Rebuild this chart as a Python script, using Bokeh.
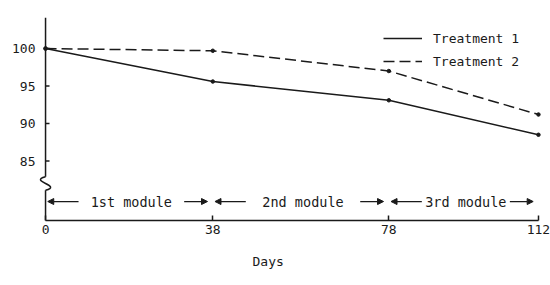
from bokeh.plotting import figure
from bokeh.models import (Range1d, FixedTicker, Legend, LegendItem, Arrow,
                          NormalHead, Title)
from bokeh.core.properties import value
from bokeh.embed import file_html
from bokeh.resources import INLINE

# ---- data ----
days = [0, 38, 78, 112]
treatment1 = [100, 95.6, 93.1, 88.5]
treatment2 = [100, 99.7, 97.0, 91.2]
series_names = ["Treatment 1", "Treatment 2"]
x_ticks = [0, 38, 78, 112]
y_ticks = [85, 90, 95, 100]
module_labels = ["1st module", "2nd module", "3rd module"]
module_start = [0, 38, 78]
module_end = [38, 78, 112]
x_label = "Days"

# ---- styling ----
FONT = "DejaVu Sans Mono"
INK = "#1a1a1a"
Y_LO, Y_HI = 77.07, 105.07
AXIS_TOP = 104.1          # top of the hand-drawn vertical axis
BREAK_HI, BREAK_LO = 82.9, 81.1  # axis break (squiggle)
ARROW_Y = 79.6            # row of module arrows

p = figure(width=550, height=285, output_backend="svg", toolbar_location=None,
           x_range=Range1d(-1.6, 113.6), y_range=Range1d(Y_LO, Y_HI),
           min_border_left=38, min_border_right=5, min_border_top=10,
           min_border_bottom=65)
p.outline_line_color = None
p.xgrid.visible = False
p.ygrid.visible = False
p.background_fill_color = "white"
p.border_fill_color = "white"

# x axis
xa = p.xaxis[0]
xa.ticker = FixedTicker(ticks=x_ticks)
xa.bounds = (min(days), max(days))
xa.axis_line_color = INK
xa.axis_line_width = 1.5
xa.major_tick_in = 5
xa.major_tick_out = 0
xa.major_tick_line_color = INK
xa.major_tick_line_width = 1.5
xa.minor_tick_line_color = None
xa.major_label_text_font = FONT
xa.major_label_text_font_size = "13px"
xa.major_label_text_color = INK
xa.major_label_standoff = 4

# y axis (labels only; line drawn by hand to allow the break)
ya = p.yaxis[0]
ya.ticker = FixedTicker(ticks=y_ticks)
ya.axis_line_color = None
ya.major_tick_line_color = None
ya.major_tick_in = 0
ya.major_tick_out = 0
ya.minor_tick_line_color = None
ya.major_label_text_font = FONT
ya.major_label_text_font_size = "13px"
ya.major_label_text_color = INK
ya.major_label_standoff = 3

# vertical axis line with squiggle break
p.segment(x0=[0, 0], y0=[AXIS_TOP, BREAK_LO], x1=[0, 0], y1=[BREAK_HI, Y_LO],
          line_color=INK, line_width=1.5)
d = BREAK_HI - BREAK_LO
p.bezier(x0=[0], y0=[BREAK_HI], x1=[0], y1=[BREAK_LO],
         cx0=[-4], cy0=[BREAK_HI - d / 3], cx1=[4], cy1=[BREAK_HI - 2 * d / 3],
         line_color=INK, line_width=1.5)
# y ticks pointing inward
p.segment(x0=[0] * len(y_ticks), y0=y_ticks, x1=[0.9] * len(y_ticks), y1=y_ticks,
          line_color=INK, line_width=1.5)

# series
r1 = p.line(days, treatment1, line_color=INK, line_width=1.5)
r2 = p.line(days, treatment2, line_color=INK, line_width=1.5, line_dash="11 5")
p.scatter(days, treatment1, size=3.5, color=INK)
p.scatter(days, treatment2, size=3.5, color=INK)

legend = Legend(items=[LegendItem(label=series_names[0], renderers=[r1]),
                       LegendItem(label=series_names[1], renderers=[r2])],
                location=(345, 149), glyph_width=39, glyph_height=20,
                label_height=20, spacing=3, label_standoff=11, padding=0,
                margin=0, border_line_color=None, background_fill_alpha=0,
                label_text_font=FONT, label_text_font_size="13px",
                label_text_color=INK)
p.add_layout(legend)

# module arrows and labels
ARROW_L, ARROW_R = 7.5, 6.5
for s, e in zip(module_start, module_end):
    p.add_layout(Arrow(x_start=s + ARROW_L, x_end=s + 0.5,
                       y_start=ARROW_Y, y_end=ARROW_Y, line_color=INK, line_width=1.2,
                       end=NormalHead(size=6, fill_color=INK, line_color=INK)))
    p.add_layout(Arrow(x_start=e - ARROW_R, x_end=e - 1.2,
                       y_start=ARROW_Y, y_end=ARROW_Y, line_color=INK, line_width=1.2,
                       end=NormalHead(size=6, fill_color=INK, line_color=INK)))
label_x = [(s + ARROW_L + e - ARROW_R) / 2 for s, e in zip(module_start, module_end)]
p.text(x=label_x, y=[ARROW_Y] * len(label_x), text=module_labels,
       text_align="center", text_baseline="middle", text_font=value(FONT),
       text_font_size="13.5px", text_color=INK)

# x axis title
p.add_layout(Title(text=x_label, align="left", offset=214, text_font=FONT,
                   text_font_size="13px", text_font_style="normal",
                   text_color=INK, standoff=31), "below")

open("out.html", "w").write(file_html(p, INLINE))
